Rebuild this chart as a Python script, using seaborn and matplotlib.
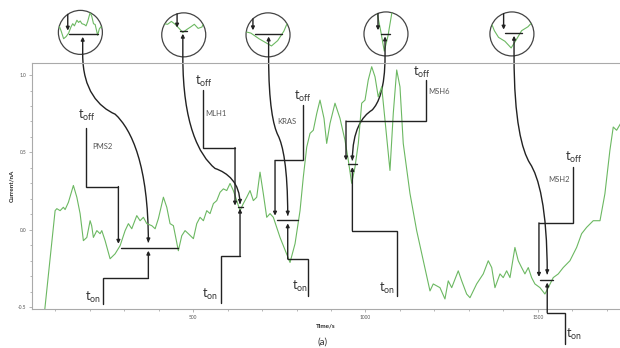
import numpy as np
import pandas as pd
import matplotlib
matplotlib.use("Agg")
import matplotlib.pyplot as plt
import seaborn as sns
from matplotlib.path import Path
from matplotlib.patches import PathPatch, Circle
from matplotlib.ticker import MultipleLocator, FormatStrFormatter

# ---------------- data ----------------
time_s = [68, 100, 105, 114.5, 124, 129, 138.6, 153, 163, 172.5,
          182, 192, 201.5, 206, 211, 221, 230.4, 235.4, 245, 259.4,
          274, 288.4, 303, 312.5, 322.3, 336.8, 346.4, 356, 365.8, 380.3,
          390, 399.4, 414, 423.8, 433.3, 443, 457.4, 467.3, 476.8, 486.4,
          501, 510.7, 520.3, 530, 539.7, 549.3, 559, 568.7, 578.3, 588,
          597.7, 607.3, 616.8, 626.7, 636.2, 645.8, 655.7, 665.2, 674.8, 684.6,
          694.2, 703.8, 713.6, 723.2, 732.8, 752.2, 771.6, 781.2, 795.7, 810.2,
          819.7, 829.6, 839.2, 848.7, 858.6, 868.1, 879.7, 887.5, 897.2, 911.6,
          926, 940.6, 950.2, 960, 969.6, 979.2, 989, 998.6, 1008, 1018,
          1027.6, 1037, 1047, 1056.5, 1071, 1080.6, 1090.5, 1100, 1109.5, 1129,
          1148.4, 1167.6, 1187, 1196.5, 1216, 1230.4, 1240, 1250, 1269, 1279,
          1293.3, 1303, 1322.3, 1341.5, 1356, 1366, 1375.4, 1390, 1399.4, 1409.3,
          1419, 1433.3, 1443, 1452.8, 1462.3, 1472, 1481.7, 1491.3, 1506, 1520.3,
          1530, 1544.4, 1559, 1573.4, 1592.8, 1612.2, 1626.7, 1641.2, 1660.4, 1680,
          1694.2, 1708.7, 1718.4, 1728.2, 1740]
current_nA = [-0.56, 0.123, 0.136, 0.123, 0.145, 0.13, 0.177, 0.286, 0.21, 0.104,
              -0.071, -0.05, 0.058, 0.026, -0.05, -0.006, -0.026, -0.006, -0.071, -0.188,
              -0.156, -0.104, -0.006, 0.039, 0.006, 0.091, 0.058, 0.08, 0.039, 0.026,
              0.006, 0.071, 0.21, 0.145, 0.039, 0.026, -0.136, -0.039, -0.006, -0.026,
              -0.058, 0.039, 0.08, 0.058, 0.123, 0.104, 0.169, 0.188, 0.242, 0.264,
              0.253, 0.299, 0.253, 0.188, 0.123, 0.169, 0.21, 0.253, 0.188, 0.21,
              0.372, 0.232, 0.08, 0.104, 0.08, -0.05, -0.158, -0.212, -0.091, 0.123,
              0.34, 0.534, 0.623, 0.643, 0.751, 0.838, 0.72, 0.558, 0.688, 0.818,
              0.721, 0.578, 0.448, 0.30, 0.405, 0.558, 0.818, 0.838, 0.968, 1.054,
              0.989, 0.859, 0.924, 0.708, 0.383, 0.753, 1.033, 0.924, 0.558, 0.234,
              -0.006, -0.201, -0.396, -0.351, -0.375, -0.448, -0.331, -0.375, -0.266, -0.331,
              -0.416, -0.44, -0.351, -0.286, -0.201, -0.245, -0.375, -0.286, -0.31, -0.266,
              -0.31, -0.115, -0.201, -0.245, -0.286, -0.245, -0.31, -0.351, -0.375, -0.416,
              -0.375, -0.31, -0.286, -0.245, -0.201, -0.115, -0.026, 0.015, 0.058, 0.058,
              0.232, 0.513, 0.664, 0.643, 0.688]

genes = ["PMS2", "MLH1", "KRAS", "MSH6", "MSH2"]
t_off = [283.5, 621.7, 737.7, 943.5, 1503.0]      # event start (down arrow)
t_on = [370.4, 636.2, 774.5, 962.0, 1527.0]       # event end marker (up arrow)
base_level = [-0.119, 0.145, 0.063, 0.422, -0.325]
base_start = [290.4, 629.6, 742.6, 950.2, 1506.0]
base_end = [457.4, 645.8, 805.2, 974.5, 1544.4]

# ---------------- annotation geometry ----------------
off_tip = [-0.091, 0.156, 0.091, 0.448, -0.305]
on_tip = [-0.136, 0.136, 0.041, 0.405, -0.342]
curve_tip = [-0.082, 0.167, 0.091, 0.448, -0.288]
off_line_x = [190, 529.9, 818, 1175.4, 1600.6]
off_top = [0.656, 0.903, 0.805, 0.968, 0.405]
off_shelf = [0.279, 0.531, 0.448, 0.703, 0.044]
on_line_x = [238.3, 580.3, 834.2, 1090.5, 1578.3]
on_bottom = [-0.483, -0.472, -0.429, -0.429, -0.742]
on_shelf = [-0.31, -0.169, -0.19, -0.006, -0.537]
off_txt = [(192, 0.74), (531, 0.957), (819, 0.859), (1163, 1.02), (1603, 0.47)]
on_txt = [(211, -0.44), (549, -0.416), (810, -0.364), (1061, -0.383), (1605, -0.677)]
gene_txt = [(206.5, 0.539), (534.8, 0.751), (744.4, 0.697), (1182, 0.892), (1530, 0.325)]
circ_x = [173.3, 473, 717.4, 1059.4, 1424.6]
circ_y = [1.276, 1.26, 1.26, 1.266, 1.266]
win_x = [(229, 485), (583, 694), (721.5, 824.7), (906.6, 1022.3), (1471.5, 1572.7)]
win_y = [(-0.425, 0.24), (-0.265, 0.435), (-0.46, 0.54), (0.266, 0.576), (-0.465, -0.195)]
shelf = [(274, 0.747), (563.8, 0.396), (746.4, 0.61), (1018.8, 0.773), (1476.8, 0.429)]

GREEN = "#6cb862"
DARK = "#222222"
R_PX = 22

sns.set_theme(style="white")
plt.rcParams["font.family"] = ["Lato", "DejaVu Sans"]
plt.rcParams["mathtext.fontset"] = "custom"
plt.rcParams["mathtext.rm"] = "Lato"
plt.rcParams["mathtext.it"] = "Lato"
plt.rcParams["mathtext.default"] = "regular"

fig = plt.figure(figsize=(6.2, 3.48), dpi=100)
ax = fig.add_axes([32 / 620, 39 / 348, 588 / 620, 246 / 348])

df = pd.DataFrame({"Time/s": time_s, "Current/nA": current_nA})
sns.lineplot(data=df, x="Time/s", y="Current/nA", ax=ax, color=GREEN, lw=0.8)
ax.set_xlim(33, 1738)
ax.set_ylim(-0.513, 1.078)

for s in ["left", "bottom", "top"]:
    ax.spines[s].set_color("#aaaaaa")
    ax.spines[s].set_linewidth(0.8)
ax.spines["right"].set_visible(False)
ax.set_xticks([500, 1000, 1500])
ax.xaxis.set_minor_locator(MultipleLocator(100))
ax.set_yticks([-0.5, 0.0, 0.5, 1.0])
ax.yaxis.set_minor_locator(MultipleLocator(0.1))
ax.yaxis.set_major_formatter(FormatStrFormatter("%.1f"))
ax.tick_params(which="both", direction="out", length=2, width=0.5, color="#999999",
               labelsize=3.5, labelcolor="#555555", pad=2, bottom=True, left=True)
ax.tick_params(which="minor", length=1.5)
ax.set_xlabel("Time/s", fontsize=4.5, fontweight="bold", labelpad=3)
ax.set_ylabel("Current/nA", fontsize=4.5, fontweight="bold", labelpad=3)

AP = dict(arrowstyle="-|>", color=DARK, lw=1.0, mutation_scale=5, shrinkA=0, shrinkB=0)


def arrow(axx, x0, y0, x1, y1, **kw):
    axx.annotate("", xy=(x1, y1), xytext=(x0, y0), arrowprops=AP, annotation_clip=False, **kw)


pxx = ax.transData.transform((1, 0))[0] - ax.transData.transform((0, 0))[0]
pxy = ax.transData.transform((0, 1))[1] - ax.transData.transform((0, 0))[1]
w = 2 * R_PX / pxx
h = 2 * R_PX / pxy

for i in range(len(genes)):
    # t_off bracket
    ax.plot([off_line_x[i], off_line_x[i], t_off[i]], [off_top[i], off_shelf[i], off_shelf[i]],
            color=DARK, lw=1.0, clip_on=False, solid_joinstyle="miter")
    arrow(ax, t_off[i], off_shelf[i], t_off[i], off_tip[i])
    # t_on bracket
    ax.plot([on_line_x[i], on_line_x[i], t_on[i]], [on_bottom[i], on_shelf[i], on_shelf[i]],
            color=DARK, lw=1.0, clip_on=False, solid_joinstyle="miter")
    arrow(ax, t_on[i], on_shelf[i], t_on[i], on_tip[i])
    # baseline
    ax.plot([base_start[i], base_end[i]], [base_level[i]] * 2, color=DARK, lw=1.0, clip_on=False)
    # texts
    ax.text(*off_txt[i], r"$t_{off}$", fontsize=9, color="#333333", ha="center", va="center")
    ax.text(*on_txt[i], r"$t_{on}$", fontsize=9, color="#333333", ha="center", va="center")
    ax.text(*gene_txt[i], genes[i], fontsize=5.5, color="#555555", ha="left", va="center")

    # zoom circle
    x0 = circ_x[i] - w / 2
    y0 = circ_y[i] - h / 2
    ins = ax.inset_axes([x0, y0, w, h], transform=ax.transData)
    ins.set_xlim(win_x[i])
    ins.set_ylim(win_y[i])
    ins.axis("off")
    clip = Circle((0.5, 0.5), 0.5, transform=ins.transAxes)
    ln, = ins.plot(time_s, current_nA, color=GREEN, lw=0.8)
    ln.set_clip_path(clip)
    bl, = ins.plot([base_start[i], base_end[i]], [base_level[i]] * 2, color=DARK, lw=1.0)
    bl.set_clip_path(clip)
    ins.add_patch(Circle((0.5, 0.5), 0.5, transform=ins.transAxes, fill=False,
                         ec="#444444", lw=0.9, clip_on=False))
    wspan = win_x[i][1] - win_x[i][0]
    hspan = win_y[i][1] - win_y[i][0]
    fo = (t_off[i] - win_x[i][0]) / wspan
    top = 0.5 + np.sqrt(max(0.25 - (fo - 0.5) ** 2, 0))
    ins.annotate("", xy=(t_off[i], base_level[i] + 0.08 * hspan), xytext=(t_off[i], top),
                 textcoords=("data", "axes fraction"), arrowprops=AP, annotation_clip=False)
    fu = (t_on[i] - win_x[i][0]) / wspan
    bot = 0.5 - np.sqrt(max(0.25 - (fu - 0.5) ** 2, 0))
    ins.annotate("", xy=(t_on[i], base_level[i] - 0.06 * hspan), xytext=(t_on[i], bot),
                 textcoords=("data", "axes fraction"), arrowprops=AP, annotation_clip=False)

    # connector curve from circle to the event
    P0 = np.array([x0 + fu * w, y0 + bot * h])
    S = np.array(shelf[i])
    P3 = np.array([t_on[i], curve_tip[i]])
    c1 = np.array([P0[0], P0[1] + 0.6 * (S[1] - P0[1])])
    c2 = S - np.array([0.5 * (S[0] - P0[0]), 0.12 * (S[1] - P0[1])])
    c3 = S + np.array([0.5 * (P3[0] - S[0]), 0.12 * (P3[1] - S[1])])
    c4 = np.array([P3[0], P3[1] - 0.6 * (P3[1] - S[1])])
    path = Path([P0, c1, c2, S, c3, c4, P3],
                [Path.MOVETO, Path.CURVE4, Path.CURVE4, Path.CURVE4,
                 Path.CURVE4, Path.CURVE4, Path.CURVE4])
    ax.add_patch(PathPatch(path, fill=False, ec=DARK, lw=1.0, clip_on=False))
    arrow(ax, P3[0], P3[1] + 0.03, P3[0], P3[1])

fig.text(323 / 620, 1 / 348, "(a)", fontsize=7, color="#333333", ha="center", va="bottom")

fig.savefig("out.png", dpi=100)
